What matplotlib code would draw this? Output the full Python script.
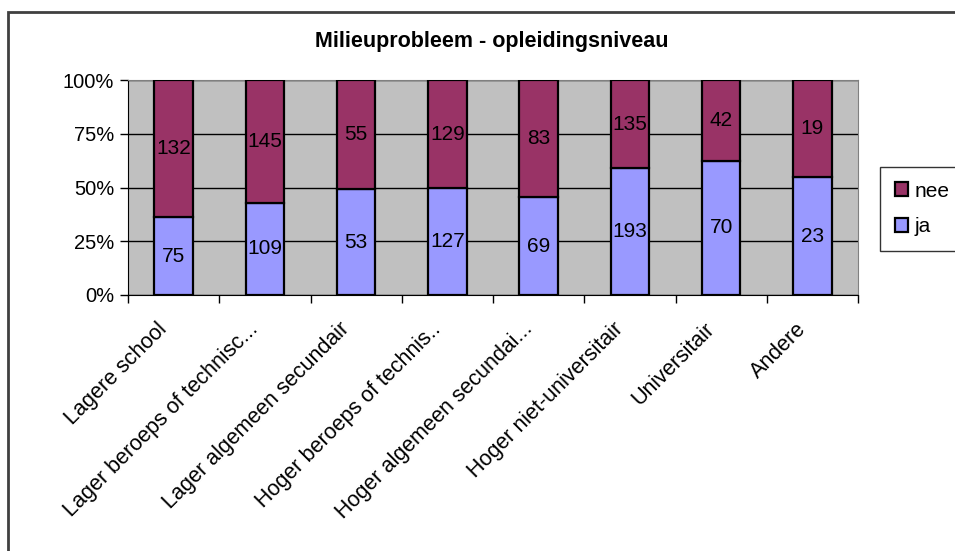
import matplotlib
matplotlib.use("Agg")
import matplotlib.pyplot as plt
import matplotlib.transforms as mtransforms
import numpy as np
from matplotlib.patches import Rectangle

# data
categories = ["Lagere school", "Lager beroeps of technisc...", "Lager algemeen secundair",
              "Hoger beroeps of technis..", "Hoger algemeen secundai...",
              "Hoger niet-universitair", "Universitair", "Andere"]
ja = [75, 109, 53, 127, 69, 193, 70, 23]
nee = [132, 145, 55, 129, 83, 135, 42, 19]

plt.rcParams['font.family'] = ['Liberation Sans', 'DejaVu Sans']

ja_arr = np.array(ja, dtype=float)
nee_arr = np.array(nee, dtype=float)
total = ja_arr + nee_arr
ja_pct = ja_arr / total * 100
nee_pct = nee_arr / total * 100

fig = plt.figure(figsize=(9.55, 5.51), dpi=100)
ax = fig.add_axes([128 / 955, 1 - 295 / 551, 730 / 955, 215 / 551])
ax.set_facecolor('#C0C0C0')

x = np.arange(len(categories))
w = 0.42
b1 = ax.bar(x, ja_pct, w, color='#9999FF', edgecolor='black', linewidth=1.6, label='ja', zorder=3)
b2 = ax.bar(x, nee_pct, w, bottom=ja_pct, color='#993366', edgecolor='black', linewidth=1.6,
            label='nee', zorder=3)

for i in range(len(categories)):
    ax.text(x[i], ja_pct[i] / 2, str(ja[i]), ha='center', va='center', fontsize=15, zorder=4)
    ax.text(x[i], ja_pct[i] + nee_pct[i] / 2, str(nee[i]), ha='center', va='center',
            fontsize=15, zorder=4)

ax.set_xlim(-0.5, len(categories) - 0.5)
ax.set_ylim(0, 100)
ax.set_yticks([0, 25, 50, 75, 100])
ax.set_yticklabels(['0%', '25%', '50%', '75%', '100%'], fontsize=14.5)
ax.yaxis.grid(True, color='black', linewidth=1, zorder=1)
ax.set_axisbelow(True)

# ticks sit between categories, labels under each bar
ax.set_xticks(np.arange(len(categories) + 1) - 0.5)
ax.set_xticklabels([])
ax.set_xticks(x, minor=True)
ax.set_xticklabels(categories, minor=True, rotation=45, ha='right', rotation_mode='anchor',
                   fontsize=15.5)
ax.tick_params(axis='x', which='minor', length=0, pad=17)
ax.tick_params(axis='x', which='major', length=6, width=1, direction='out')
ax.tick_params(axis='y', length=6, width=1, direction='out', pad=4)

# nudge category labels a bit to the left, like the original
shift = mtransforms.ScaledTranslation(-17 / 100, 0, fig.dpi_scale_trans)
for lbl in ax.get_xticklabels(minor=True):
    lbl.set_transform(lbl.get_transform() + shift)

for s in ['top', 'right']:
    ax.spines[s].set_color('#808080')
ax.spines['left'].set_color('black')
ax.spines['bottom'].set_color('black')

fig.text(492 / 955, 1 - 42 / 551, 'Milieuprobleem - opleidingsniveau', ha='center', va='center',
         fontsize=15.5, fontweight='bold')

leg = fig.legend(handles=[b2, b1], labels=['nee', 'ja'], loc='upper left',
                 bbox_to_anchor=(880 / 955, 1 - 167 / 551), borderaxespad=0,
                 fontsize=15, frameon=True, fancybox=False, handlelength=0.65, handleheight=0.65,
                 handletextpad=0.3, labelspacing=0.8, borderpad=0.7)
leg.get_frame().set_edgecolor('black')
leg.get_frame().set_linewidth(1)

# chart area border (runs past the right and bottom edges)
fig.patches.append(Rectangle((8 / 955, -0.2), 1.2, 1.2 - 12 / 551, transform=fig.transFigure,
                             fill=False, edgecolor='#404040', linewidth=2))

fig.savefig('out.png', dpi=100)
